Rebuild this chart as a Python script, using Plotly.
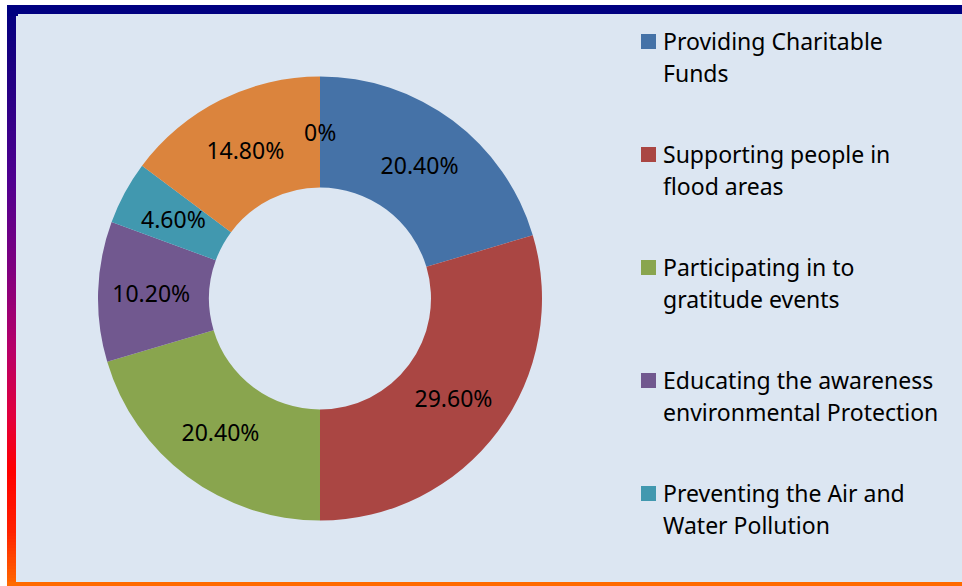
import plotly.graph_objects as go
import numpy as np

# ---- data ----
categories = [
    "Providing Charitable Funds",
    "Supporting people in flood areas",
    "Participating in to gratitude events",
    "Educating the awareness environmental Protection",
    "Preventing the Air and Water Pollution",
    "Other activities",
    "Not specified",
]
values = [20.40, 29.60, 20.40, 10.20, 4.60, 14.80, 0.0]
colors = ["#4572A7", "#AA4643", "#89A54E", "#71588F", "#4198AF", "#DB843D", "#93A9CF"]
legend_lines = [
    ["Providing Charitable", "Funds"],
    ["Supporting people in", "flood areas"],
    ["Participating in to", "gratitude events"],
    ["Educating the awareness", "environmental Protection"],
    ["Preventing the Air and", "Water Pollution"],
]

W, H = 962, 586
FONT = "Noto Sans"
BG = "#DCE6F2"

def px(x):
    return x / W

def py(y):
    return 1 - y / H

labels_text = [f"{v:.2f}%" if v else "0%" for v in values]
small = [v < 5 for v in values]

# pie geometry (pixels)
cx, cy, R, HOLE = 320, 298.5, 222, 0.5

fig = go.Figure()
fig.add_trace(go.Pie(
    labels=categories,
    values=values,
    text=["" if s else t for t, s in zip(labels_text, small)],
    textinfo="text",
    textposition="inside",
    insidetextorientation="horizontal",
    textfont=dict(family=FONT, size=23, color="black"),
    marker=dict(colors=colors, line=dict(width=0)),
    hole=HOLE,
    sort=False,
    direction="clockwise",
    rotation=0,
    showlegend=False,
    hovertemplate="%{label}: %{value:.2f}%<extra></extra>",
    domain=dict(x=[px(cx - R), px(cx + R)], y=[py(cy + R), py(cy - R)]),
))

annotations = []
# labels of narrow slices placed at mid-ring, like the other labels
total = sum(values)
cum = 0.0
r_mid = R * (1 + HOLE) / 2
for v, t, s in zip(values, labels_text, small):
    mid = (cum + v / 2) / total
    cum += v
    if not s:
        continue
    th = 2 * np.pi * mid
    ax = cx + r_mid * np.sin(th)
    ay = cy - r_mid * np.cos(th)
    annotations.append(dict(text=t, xref="paper", yref="paper", x=px(ax), y=py(ay),
                            xanchor="center", yanchor="middle", showarrow=False,
                            font=dict(family=FONT, size=23, color="black")))

shapes = []
# inner background panel
shapes.append(dict(type="rect", xref="paper", yref="paper", x0=px(16), x1=px(W + 5),
                   y0=py(582), y1=py(14), fillcolor=BG, line=dict(width=0), layer="below"))
# top navy bar
shapes.append(dict(type="rect", xref="paper", yref="paper", x0=px(12), x1=px(W + 5),
                   y0=py(14), y1=py(5), fillcolor="#000080", line=dict(width=0), layer="below"))
# left gradient bar
stops_y = [5, 60, 180, 270, 350, 420, 470, 530, 586]
stops_c = ["#000080", "#1a0080", "#500090", "#80007f", "#b80068", "#e4003a",
           "#ff0000", "#ff2000", "#ff6a00"]
def hex2rgb(h):
    return [int(h[i:i + 2], 16) for i in (1, 3, 5)]
rgb = np.array([hex2rgb(c) for c in stops_c], dtype=float)
step = 3
for y0 in range(8, 586, step):
    ym = y0 + step / 2
    c = [int(round(np.interp(ym, stops_y, rgb[:, k]))) for k in range(3)]
    shapes.append(dict(type="rect", xref="paper", yref="paper", x0=px(7), x1=px(16),
                       y0=py(y0 + step + 0.5), y1=py(y0), fillcolor=f"rgb({c[0]},{c[1]},{c[2]})",
                       line=dict(width=0), layer="below"))
# top-left corner
shapes.append(dict(type="rect", xref="paper", yref="paper", x0=px(7), x1=px(18),
                   y0=py(16), y1=py(5), fillcolor="#000080", line=dict(width=0), layer="below"))
# bottom orange bar
shapes.append(dict(type="rect", xref="paper", yref="paper", x0=px(7), x1=px(W + 5),
                   y0=py(H + 5), y1=py(582), fillcolor="#ff6a00", line=dict(width=0), layer="below"))

# legend (manual, only the entries visible in the frame)
leg_y0, leg_dy, line_dy = 41, 113, 32
for i, lines in enumerate(legend_lines):
    yc = leg_y0 + i * leg_dy
    shapes.append(dict(type="rect", xref="paper", yref="paper", x0=px(641), x1=px(656),
                       y0=py(yc + 8), y1=py(yc - 7), fillcolor=colors[i], line=dict(width=0)))
    for j, t in enumerate(lines):
        annotations.append(dict(text=t, xref="paper", yref="paper", x=px(661), y=py(yc + j * line_dy),
                                xanchor="left", yanchor="middle", showarrow=False,
                                font=dict(family=FONT, size=23, color="black")))

fig.update_layout(
    width=W, height=H,
    margin=dict(l=0, r=0, t=0, b=0),
    paper_bgcolor="white",
    plot_bgcolor="white",
    shapes=shapes,
    annotations=annotations,
    uniformtext=dict(minsize=23, mode="show"),
)

fig.write_html("out.html",
               config={"displayModeBar": False},
               post_script="document.body.style.margin='0';document.body.style.padding='0';")
